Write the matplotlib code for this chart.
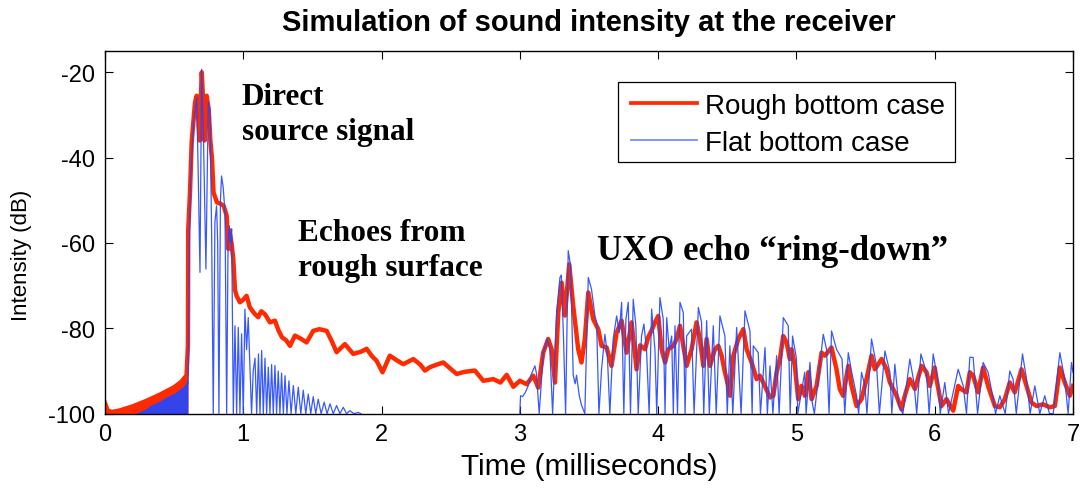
import numpy as np
import matplotlib
matplotlib.use("Agg")
import matplotlib.pyplot as plt
from matplotlib.patches import Rectangle

# ---------------- data ----------------
# Rough bottom case: pre-arrival envelope (filled band 0 - 0.6 ms)
red_pre_t = [0.0, 0.02, 0.05, 0.1, 0.2, 0.3, 0.4, 0.5, 0.55, 0.59, 0.60]
red_pre_db = [-97.5, -99.3, -99.6, -99.3, -98.3, -97.0, -95.5, -93.8, -92.6, -91.0, -90.0]

# Flat bottom case: pre-arrival envelope (filled band)
blue_pre_t = [0.22, 0.3, 0.325, 0.4, 0.446, 0.5, 0.542, 0.57, 0.59, 0.60]
blue_pre_db = [-100.0, -98.8, -98.1, -97.0, -96.0, -95.3, -94.2, -93.5, -92.6, -92.0]

# Rough bottom case (red line)
red_t = [0.0, 0.02, 0.05, 0.1, 0.2, 0.3, 0.4, 0.5, 0.55, 0.59,
         0.600, 0.602, 0.615, 0.627, 0.651, 0.663, 0.675, 0.685, 0.692, 0.700,
         0.710, 0.720, 0.735, 0.750, 0.762, 0.774, 0.785, 0.810, 0.835, 0.858,
         0.880, 0.892, 0.900, 0.915, 0.928, 0.940, 0.952, 0.976, 1.000, 1.024,
         1.048, 1.080, 1.108, 1.130, 1.157, 1.193, 1.229, 1.255, 1.280, 1.310,
         1.338, 1.374, 1.420, 1.458, 1.506, 1.550, 1.603, 1.640, 1.675, 1.735,
         1.795, 1.850, 1.892, 1.930, 1.964, 2.007, 2.060, 2.110, 2.157, 2.230,
         2.280, 2.314, 2.350, 2.400, 2.446, 2.500, 2.543, 2.600, 2.675, 2.736,
         2.808, 2.860, 2.905, 2.953, 3.000, 3.049, 3.097, 3.133, 3.169, 3.205,
         3.230, 3.254, 3.278, 3.302, 3.326, 3.357, 3.386, 3.422, 3.446, 3.470,
         3.495, 3.531, 3.567, 3.591, 3.627, 3.663, 3.700, 3.736, 3.772, 3.808,
         3.844, 3.870, 3.905, 3.929, 3.953, 3.977, 4.001, 4.025, 4.050, 4.074,
         4.110, 4.134, 4.158, 4.182, 4.206, 4.242, 4.278, 4.302, 4.327, 4.351,
         4.375, 4.411, 4.435, 4.459, 4.483, 4.507, 4.520, 4.544, 4.580, 4.616,
         4.640, 4.676, 4.712, 4.736, 4.772, 4.809, 4.833, 4.857, 4.881, 4.905,
         4.929, 4.953, 4.965, 4.989, 5.013, 5.037, 5.061, 5.086, 5.110, 5.146,
         5.182, 5.206, 5.254, 5.290, 5.314, 5.338, 5.375, 5.399, 5.435, 5.471,
         5.507, 5.543, 5.567, 5.616, 5.652, 5.676, 5.724, 5.760, 5.784, 5.820,
         5.857, 5.905, 5.941, 5.965, 6.000, 6.013, 6.049, 6.085, 6.134, 6.170,
         6.194, 6.230, 6.254, 6.278, 6.314, 6.350, 6.386, 6.435, 6.471, 6.507,
         6.543, 6.579, 6.628, 6.664, 6.700, 6.736, 6.784, 6.832, 6.869, 6.905,
         6.941, 6.977, 7.000]
red_db = [-97.5, -99.3, -99.6, -99.3, -98.3, -97.0, -95.5, -93.8, -92.6, -91.0,
          -84.0, -57.0, -48.0, -36.4, -27.1, -25.5, -31.0, -36.0, -27.0, -20.0,
          -27.0, -36.0, -25.5, -28.6, -36.0, -40.3, -48.2, -50.5, -50.8, -51.3,
          -53.6, -61.4, -57.0, -60.0, -63.8, -71.0, -72.4, -73.9, -73.3, -72.4,
          -75.1, -76.5, -77.4, -76.0, -76.7, -78.6, -78.2, -80.5, -82.1, -82.8,
          -84.1, -81.7, -82.5, -83.3, -80.6, -80.2, -80.6, -83.0, -85.6, -83.7,
          -86.0, -85.5, -84.8, -86.5, -87.6, -90.3, -86.4, -87.5, -88.4, -87.2,
          -88.5, -89.9, -89.1, -88.5, -88.0, -89.5, -90.7, -90.2, -89.9, -92.3,
          -91.9, -92.7, -90.9, -93.7, -92.3, -93.1, -91.1, -93.9, -85.7, -82.5,
          -84.9, -92.7, -76.3, -69.3, -77.0, -65.0, -74.7, -84.9, -88.0, -82.5,
          -71.6, -77.9, -80.2, -84.1, -84.5, -88.8, -81.0, -78.2, -85.7, -78.6,
          -89.6, -84.0, -84.9, -82.0, -80.5, -78.6, -77.1, -84.9, -88.0, -84.9,
          -84.1, -82.5, -79.4, -84.1, -88.8, -84.9, -78.6, -82.5, -88.8, -82.5,
          -88.8, -84.9, -84.1, -86.4, -90.3, -93.5, -95.8, -86.4, -82.5, -80.2,
          -84.9, -88.0, -91.9, -91.1, -93.5, -96.2, -95.8, -90.3, -87.2, -81.8,
          -83.3, -87.2, -84.9, -88.8, -96.6, -93.5, -95.8, -90.3, -96.6, -93.5,
          -85.7, -86.4, -84.5, -89.6, -94.3, -95.8, -88.8, -93.5, -98.2, -96.6,
          -91.9, -86.4, -89.6, -87.2, -89.6, -92.7, -95.8, -99.0, -95.8, -91.9,
          -94.2, -88.8, -90.3, -93.5, -89.2, -91.9, -98.2, -96.6, -99.3, -93.5,
          -94.3, -95.0, -90.3, -91.1, -95.0, -89.2, -93.5, -98.2, -98.5, -96.6,
          -92.7, -95.0, -89.6, -93.5, -97.4, -98.2, -97.8, -98.5, -98.2, -89.2,
          -92.7, -95.8, -93.5]

# Flat bottom case (blue line); NaN = no signal above -100 dB
blue_t = [0.600, 0.610, 0.620, 0.640, 0.663, 0.675, 0.687, 0.699, 0.712, 0.730,
          0.747, 0.760, 0.772, 0.783, 0.795, 0.807, 0.815, 0.824, 0.835, 0.843,
          0.855, 0.868, 0.880, 0.890, 0.899, 0.908, 0.916, 0.928,
          0.940, 0.952, 0.964, 0.976, 0.988, 1.000, 1.012, 1.024, 1.036, 1.060,
          1.072, 1.085, 1.097, 1.110, 1.121, 1.133, 1.145, 1.157, 1.169, 1.181,
          1.193, 1.205, 1.217, 1.229, 1.241, 1.253, 1.265, 1.277, 1.290, 1.302,
          1.316, 1.330, 1.346, 1.362, 1.380, 1.398, 1.416, 1.434, 1.452, 1.470,
          1.488, 1.506, 1.524, 1.542, 1.563, 1.585, 1.606, 1.627, 1.651, 1.675,
          1.699, 1.723, 1.747, 1.771, 1.800, 1.832, 1.850, 2.500,
          3.000, 3.005, 3.020, 3.040, 3.060, 3.080, 3.109, 3.120, 3.140, 3.170,
          3.198, 3.217, 3.237, 3.266, 3.290, 3.300, 3.316, 3.331, 3.350, 3.367,
          3.386, 3.400, 3.410, 3.430, 3.446, 3.470, 3.495, 3.518, 3.543, 3.555,
          3.572, 3.591, 3.615, 3.632, 3.651, 3.675, 3.700, 3.719, 3.736, 3.752,
          3.767, 3.784, 3.800, 3.820, 3.839, 3.856, 3.880, 3.897, 3.916, 3.935,
          3.953, 3.977, 3.990, 4.013, 4.037, 4.050, 4.062, 4.080, 4.098, 4.110,
          4.122, 4.140, 4.158, 4.182, 4.195, 4.206, 4.242, 4.260, 4.291, 4.314,
          4.330, 4.351, 4.370, 4.399, 4.420, 4.447, 4.483, 4.500, 4.519, 4.540,
          4.568, 4.600, 4.628, 4.664, 4.680, 4.688, 4.724, 4.740, 4.773, 4.790,
          4.809, 4.830, 4.857, 4.875, 4.905, 4.941, 4.955, 4.972, 5.000, 5.010,
          5.060, 5.070, 5.098, 5.115, 5.130, 5.194, 5.218, 5.236, 5.254, 5.290,
          5.330, 5.350, 5.375, 5.400, 5.435, 5.450, 5.471, 5.495, 5.510, 5.543,
          5.580, 5.600, 5.640, 5.676, 5.690, 5.712, 5.740, 5.770, 5.820, 5.850,
          5.870, 5.900, 5.940, 5.960, 5.989, 6.025, 6.040, 6.073, 6.100, 6.170,
          6.206, 6.230, 6.254, 6.278, 6.310, 6.350, 6.386, 6.420, 6.440, 6.471,
          6.510, 6.543, 6.567, 6.590, 6.635, 6.664, 6.690, 6.724, 6.760, 6.796,
          6.830, 6.857, 6.905, 6.940, 6.965, 6.989, 7.000]
blue_db = [-93.0, -60.0, -45.0, -32.0, -25.9, -45.0, -66.9, -19.3, -35.0, -66.1,
           -27.0, -30.0, -60.0, -100.0, -55.0, -51.3, -60.0, -100.0, -50.0, -44.3,
           -47.0, -52.8, -100.0, -60.0, -56.0, -60.0, -56.7, -100.0,
           -79.4, -100.0, -79.8, -100.0, -81.3, -100.0, -75.5, -85.0, -77.5, -100.0,
           -90.0, -87.0, -100.0, -86.0, -100.0, -85.2, -100.0, -87.0, -100.0, -89.1,
           -100.0, -88.5, -100.0, -88.7, -100.0, -90.0, -100.0, -90.5, -100.0, -91.1,
           -100.0, -92.3, -100.0, -93.4, -100.0, -93.8, -100.0, -94.5, -100.0, -95.4,
           -100.0, -96.0, -100.0, -96.6, -100.0, -97.3, -100.0, -97.7, -100.0, -98.1,
           -100.0, -98.5, -100.0, -99.3, -100.0, -99.7, -100.0, np.nan,
           -100.0, -95.8, -96.0, -95.0, -93.5, -91.0, -88.8, -90.5, -100.0, -85.7,
           -82.5, -84.9, -100.0, -76.3, -68.1, -67.5, -82.5, -100.0, -61.8, -65.3,
           -91.0, -93.0, -91.0, -95.8, -98.0, -100.0, -68.1, -70.8, -77.0, -78.6,
           -100.0, -89.6, -81.4, -85.7, -100.0, -82.5, -77.1, -81.0, -73.9, -100.0,
           -77.9, -73.9, -100.0, -73.2, -79.4, -100.0, -81.8, -79.0, -84.9, -100.0,
           -75.5, -85.0, -100.0, -72.8, -77.9, -100.0, -77.5, -85.0, -81.8, -100.0,
           -79.4, -100.0, -73.9, -76.3, -100.0, -81.8, -80.2, -100.0, -75.1, -78.6,
           -100.0, -78.2, -100.0, -79.4, -100.0, -77.1, -81.8, -100.0, -84.1, -100.0,
           -79.8, -100.0, -75.9, -80.6, -100.0, -84.1, -85.7, -100.0, -84.5, -100.0,
           -88.8, -100.0, -86.4, -100.0, -77.5, -79.4, -100.0, -81.8, -87.0, -100.0,
           -90.3, -100.0, -88.0, -97.5, -100.0, -81.4, -84.9, -100.0, -80.6, -84.9,
           -87.2, -100.0, -85.7, -90.3, -95.8, -100.0, -90.3, -93.5, -100.0, -82.5,
           -88.8, -100.0, -85.3, -90.3, -100.0, -88.4, -98.0, -100.0, -87.2, -92.7,
           -100.0, -86.0, -90.3, -100.0, -86.0, -92.7, -100.0, -92.7, -100.0, -89.6,
           -93.5, -100.0, -86.8, -86.8, -100.0, -88.0, -90.3, -96.0, -100.0, -95.8,
           -100.0, -90.0, -91.9, -100.0, -86.0, -91.9, -100.0, -93.5, -100.0, -95.8,
           -100.0, -100.0, -85.7, -91.9, -100.0, -88.0, -90.3]

x_ticks = [0, 1, 2, 3, 4, 5, 6, 7]
y_ticks = [-100, -80, -60, -40, -20]
series_labels = ["Rough bottom case", "Flat bottom case"]

# ---------------- figure ----------------
RED = "#ff2a00"
BLUE = "#2246ff"
SANS = ["Liberation Sans", "DejaVu Sans"]
SERIF = ["Liberation Serif", "DejaVu Serif"]

fig = plt.figure(figsize=(10.8, 4.89), dpi=100)
ax = fig.add_axes([0.0972, 0.152, 0.8963, 0.7418])

ax.fill_between(red_pre_t, -100, red_pre_db, color=RED, lw=0, zorder=1)
ax.fill_between(blue_pre_t, -100, blue_pre_db, color=BLUE, lw=0, alpha=0.92, zorder=1.1)
ax.plot(red_t, red_db, color=RED, lw=3.2, solid_joinstyle="round", zorder=2)
ax.plot(blue_t, blue_db, color=BLUE, lw=0.9, alpha=0.9, zorder=2.1)

ax.set_xlim(0, 7)
ax.set_ylim(-100, -15)
ax.set_xticks(x_ticks)
ax.set_yticks(y_ticks)
ax.set_xticklabels([str(v) for v in x_ticks], family=SANS, fontsize=17)
ax.set_yticklabels([str(v) for v in y_ticks], family=SANS, fontsize=17)
ax.tick_params(direction="in", length=6, width=0.8, top=True, right=True, pad=7)
for s in ax.spines.values():
    s.set_linewidth(1.0)
    s.set_zorder(5)

ax.set_xlabel("Time (milliseconds)", family=SANS, fontsize=21.5, labelpad=5)
ax.set_ylabel("Intensity (dB)", family=SANS, fontsize=16)
ax.yaxis.set_label_coords(-0.0755, 0.44)
ax.set_title("Simulation of sound intensity at the receiver", family=SANS,
             fontsize=21, fontweight="bold", pad=15)

# MATLAB-style legend box (text clipped by the box like in the reference)
box = Rectangle((0.530, 0.694), 0.348, 0.2206, transform=ax.transAxes,
                facecolor="white", edgecolor="black", lw=0.9, zorder=6)
ax.add_patch(box)
ax.plot([0.5434, 0.6116], [0.8566, 0.8566], transform=ax.transAxes,
        color=RED, lw=2.7, zorder=7, clip_on=False)
ax.plot([0.5434, 0.6116], [0.7546, 0.7546], transform=ax.transAxes,
        color="#6a85ff", lw=1.2, zorder=7, clip_on=False)
for yy, lab in zip([0.8566, 0.7546], series_labels):
    t = ax.text(0.6198, yy, lab, transform=ax.transAxes, family=SANS, fontsize=20,
                va="center_baseline", ha="left", zorder=8)
    t.set_clip_path(box)

ax.text(0.99, -22.3, "Direct\nsource signal", family=SERIF, fontweight="bold",
        fontsize=22.5, va="top", ha="left", linespacing=1.25)
ax.text(1.395, -54.2, "Echoes from\nrough surface", family=SERIF, fontweight="bold",
        fontsize=22.5, va="top", ha="left", linespacing=1.25)
ax.text(3.557, -57.8, "UXO echo \u201cring-down\u201d", family=SERIF, fontweight="bold",
        fontsize=25, va="top", ha="left")

fig.savefig("out.png", dpi=100)
